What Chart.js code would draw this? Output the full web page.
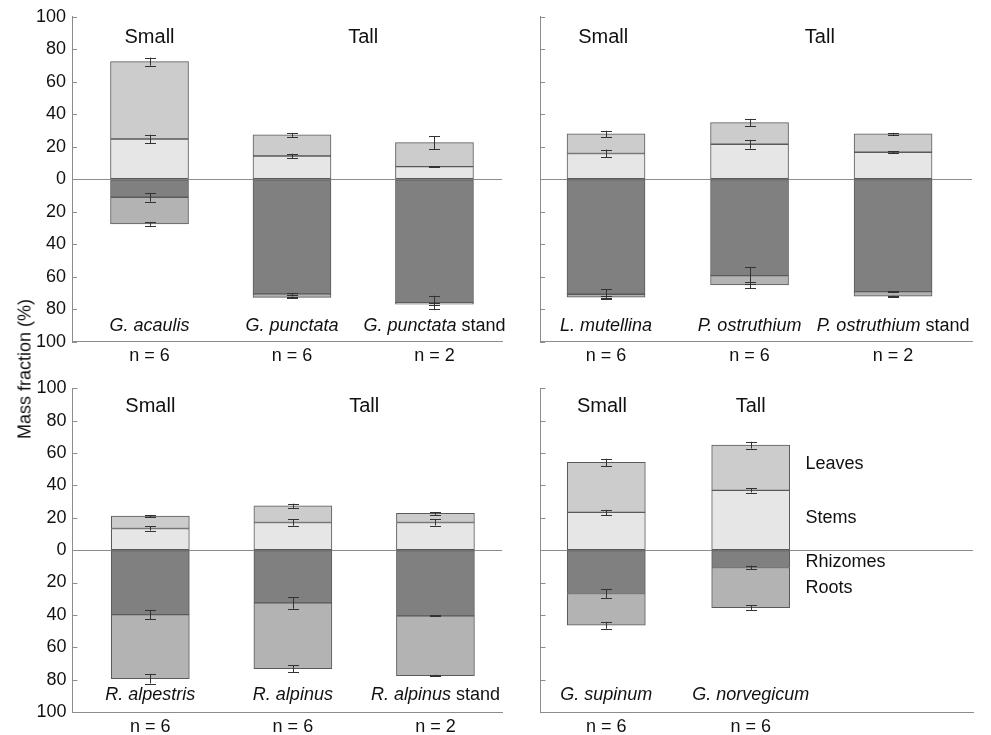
<!DOCTYPE html>
<html><head><meta charset="utf-8">
<script src="https://cdn.jsdelivr.net/npm/chart.js@4.4.0/dist/chart.umd.min.js"></script>
<style>
html,body{margin:0;padding:0;background:#fff;}
#wrap{position:relative;width:991px;height:735px;overflow:hidden;font-family:"Liberation Sans",Arial,sans-serif;}
.pc{position:absolute;}
#ytitle{position:absolute;left:25px;top:369px;transform:translate(-50%,-50%) rotate(-90deg);font-size:18px;white-space:nowrap;color:#111;}
</style></head><body>
<div id="wrap">
<div class="pc" style="left:0;top:0;"><canvas id="c1" width="510" height="370"></canvas></div>
<div class="pc" style="left:510px;top:0;"><canvas id="c2" width="481" height="370"></canvas></div>
<div class="pc" style="left:0;top:370px;"><canvas id="c3" width="510" height="365"></canvas></div>
<div class="pc" style="left:510px;top:370px;"><canvas id="c4" width="481" height="365"></canvas></div>
<div id="ytitle">Mass fraction (%)</div>
</div>
<script>
// ---------- DATA ----------
const yTickLabels = ['100','80','60','40','20','0','20','40','60','80','100'];
const seriesNames = ['Leaves','Stems','Rhizomes','Roots'];
const groupNames = ['Small','Tall'];

// Panel 1 (top left)
const p1Species = ['G. acaulis','G. punctata','G. punctata'];
const p1Suffix  = ['','','stand'];
const p1N       = ['n = 6','n = 6','n = 2'];
const p1Stems    = [24.8, 14.3, 7.8];
const p1Leaves   = [47.6, 13.0, 14.7];
const p1Rhizomes = [11.1, 70.6, 75.9];
const p1Roots    = [16.4, 2.1, 1.0];
const p1LeavesErr   = [2.5, 1.2, 4.1];
const p1StemsErr    = [2.6, 1.4, 0.3];
const p1RhizomesErr = [2.7, 0.6, 4.2];
const p1RootsErr    = [1.2, 0.5, 0.5];

// Panel 2 (top right)
const p2Species = ['L. mutellina','P. ostruthium','P. ostruthium'];
const p2Suffix  = ['','','stand'];
const p2N       = ['n = 6','n = 6','n = 2'];
const p2Stems    = [15.8, 21.5, 16.6];
const p2Leaves   = [12.1, 13.3, 11.3];
const p2Rhizomes = [70.8, 59.3, 69.2];
const p2Roots    = [1.8, 5.7, 2.8];
const p2LeavesErr   = [1.9, 2.3, 0.6];
const p2StemsErr    = [2.4, 2.7, 0.6];
const p2RhizomesErr = [3.2, 5.2, 0.3];
const p2RootsErr    = [0.5, 2.0, 0.3];

// Panel 3 (bottom left)
const p3Species = ['R. alpestris','R. alpinus','R. alpinus'];
const p3Suffix  = ['','','stand'];
const p3N       = ['n = 6','n = 6','n = 2'];
const p3Stems    = [13.4, 17.1, 17.1];
const p3Leaves   = [7.6, 10.3, 5.6];
const p3Rhizomes = [39.8, 32.6, 40.6];
const p3Roots    = [39.6, 40.6, 36.9];
const p3LeavesErr   = [0.6, 1.3, 0.9];
const p3StemsErr    = [1.3, 2.0, 1.9];
const p3RhizomesErr = [3.0, 3.6, 0.3];
const p3RootsErr    = [3.0, 2.2, 0.5];

// Panel 4 (bottom right)
const p4Species = ['G. supinum','G. norvegicum'];
const p4Suffix  = ['',''];
const p4N       = ['n = 6','n = 6'];
const p4Stems    = [23.3, 36.9];
const p4Leaves   = [30.9, 28.0];
const p4Rhizomes = [26.8, 10.7];
const p4Roots    = [19.6, 24.8];
const p4LeavesErr   = [2.3, 2.1];
const p4StemsErr    = [1.6, 1.3];
const p4RhizomesErr = [2.7, 1.1];
const p4RootsErr    = [2.1, 1.4];

// ---------- STYLE ----------
const FONT = '"Liberation Sans", Arial, sans-serif';
const TXT = '#111';
const AXC = '#8c8c8c';
const colors = {Leaves:'#cccccc', Stems:'#e6e6e6', Rhizomes:'#808080', Roots:'#b3b3b3'};

const annot = {
  id: 'annot',
  afterDatasetsDraw(chart) {
    const o = chart.options.plugins.annot;
    const xs = chart.scales.x, ys = chart.scales.y, ctx = chart.ctx;
    ctx.save();
    ctx.strokeStyle = '#333'; ctx.lineWidth = 1;
    const bar = (xv, v, e) => {
      const px = Math.round(xs.getPixelForValue(xv)) + 0.5;
      const y1 = ys.getPixelForValue(v + e), y2 = ys.getPixelForValue(v - e);
      ctx.beginPath();
      ctx.moveTo(px, y1); ctx.lineTo(px, y2);
      ctx.moveTo(px - 5.5, Math.round(y1) + 0.5); ctx.lineTo(px + 5.5, Math.round(y1) + 0.5);
      ctx.moveTo(px - 5.5, Math.round(y2) + 0.5); ctx.lineTo(px + 5.5, Math.round(y2) + 0.5);
      ctx.stroke();
    };
    o.stems.forEach((s, i) => {
      const xv = i + 1;
      bar(xv, s + o.leaves[i], o.leavesErr[i]);
      bar(xv, s, o.stemsErr[i]);
      bar(xv, -o.rhizomes[i], o.rhizomesErr[i]);
      bar(xv, -(o.rhizomes[i] + o.roots[i]), o.rootsErr[i]);
    });
    ctx.restore();
  },
  afterDraw(chart) {
    const o = chart.options.plugins.annot;
    const xs = chart.scales.x, ys = chart.scales.y, ctx = chart.ctx, ca = chart.chartArea;
    ctx.save();
    // inward tick marks
    ctx.strokeStyle = AXC; ctx.lineWidth = 1;
    ys.ticks.forEach(t => {
      const py = Math.round(ys.getPixelForValue(t.value)) + 0.5;
      ctx.beginPath(); ctx.moveTo(ca.left, py); ctx.lineTo(ca.left + 5, py); ctx.stroke();
    });
    ctx.fillStyle = TXT;
    ctx.textBaseline = 'middle';
    // group headers
    ctx.font = '20px ' + FONT; ctx.textAlign = 'center';
    groupNames.forEach((g, i) => {
      ctx.fillText(g, xs.getPixelForValue(o.groupX[i]), ys.getPixelForValue(o.groupY));
    });
    // species labels
    ctx.textAlign = 'left';
    o.species.forEach((sp, i) => {
      const cx = xs.getPixelForValue(i + 1);
      const py = ys.getPixelForValue(o.speciesY);
      ctx.font = 'italic 18px ' + FONT;
      const w1 = ctx.measureText(sp).width;
      let w2 = 0, suf = o.suffix[i];
      ctx.font = '18px ' + FONT;
      if (suf) w2 = ctx.measureText(' ' + suf).width;
      const x0 = cx - (w1 + w2) / 2;
      ctx.font = 'italic 18px ' + FONT;
      ctx.fillText(sp, x0, py);
      if (suf) { ctx.font = '18px ' + FONT; ctx.fillText(' ' + suf, x0 + w1, py); }
    });
    // legend labels
    if (o.legendY) {
      ctx.font = '18px ' + FONT; ctx.textAlign = 'left';
      seriesNames.forEach((n, i) => {
        ctx.fillText(n, xs.getPixelForValue(o.legendX), ys.getPixelForValue(o.legendY[i]));
      });
    }
    ctx.restore();
  }
};

function makeChart(id, d, lay) {
  const xv = d.stems.map((_, i) => i + 1);
  const mk = (name, arr, sign) => ({
    label: name,
    data: arr.map((v, i) => ({x: xv[i], y: sign * v})),
    backgroundColor: colors[name],
    borderColor: '#5a5a5a',
    borderWidth: 1,
    borderSkipped: false,
    barThickness: 78
  });
  return new Chart(document.getElementById(id), {
    type: 'bar',
    data: {datasets: [
      mk('Stems', d.stems, 1), mk('Leaves', d.leaves, 1),
      mk('Rhizomes', d.rhizomes, -1), mk('Roots', d.roots, -1)
    ]},
    options: {
      responsive: false, animation: false,
      layout: {padding: {top: lay.top, right: lay.right, bottom: 0, left: 0}},
      plugins: {
        legend: {display: false}, tooltip: {enabled: false},
        annot: Object.assign({}, d, lay)
      },
      scales: {
        x: {
          type: 'linear', stacked: true, min: lay.xmin, max: lay.xmax, offset: false,
          grid: {display: false, drawTicks: false, offset: false},
          border: {display: true, color: AXC, width: 1},
          afterBuildTicks: s => { s.ticks = xv.map(v => ({value: v})); },
          ticks: {callback: (v, i) => d.n[i], font: {size: 18, family: FONT}, color: TXT,
                  padding: lay.xpad, maxRotation: 0, autoSkip: false},
          afterFit: s => { s.height = lay.xh; }
        },
        y: {
          stacked: true, min: -100, max: 100,
          ticks: {stepSize: 20, display: lay.yLabels, callback: (v, i) => yTickLabels[i],
                  font: {size: 18, family: FONT}, color: TXT, padding: 6},
          grid: {drawTicks: false, lineWidth: 1,
                 color: c => (c.tick && c.tick.value === 0) ? AXC : 'rgba(0,0,0,0)'},
          border: {display: true, color: AXC, width: 1},
          afterFit: s => { s.width = lay.yw; }
        }
      }
    },
    plugins: [annot]
  });
}

makeChart('c1',
  {stems: p1Stems, leaves: p1Leaves, rhizomes: p1Rhizomes, roots: p1Roots,
   stemsErr: p1StemsErr, leavesErr: p1LeavesErr, rhizomesErr: p1RhizomesErr, rootsErr: p1RootsErr,
   species: p1Species, suffix: p1Suffix, n: p1N},
  {top: 16.7, right: 8, yw: 72, xh: 28.3, xpad: 4, xmin: 0.456, xmax: 3.474, yLabels: true,
   groupX: [1, 2.5], groupY: 87.5, speciesY: -90.6});

makeChart('c2',
  {stems: p2Stems, leaves: p2Leaves, rhizomes: p2Rhizomes, roots: p2Roots,
   stemsErr: p2StemsErr, leavesErr: p2LeavesErr, rhizomesErr: p2RhizomesErr, rootsErr: p2RootsErr,
   species: p2Species, suffix: p2Suffix, n: p2N},
  {top: 16.7, right: 19, yw: 30, xh: 28.3, xpad: 4, xmin: 0.54, xmax: 3.55, yLabels: false,
   groupX: [0.98, 2.49], groupY: 87.5, speciesY: -90.6});

makeChart('c3',
  {stems: p3Stems, leaves: p3Leaves, rhizomes: p3Rhizomes, roots: p3Roots,
   stemsErr: p3StemsErr, leavesErr: p3LeavesErr, rhizomesErr: p3RhizomesErr, rootsErr: p3RootsErr,
   species: p3Species, suffix: p3Suffix, n: p3N},
  {top: 18.3, right: 8, yw: 72.5, xh: 23, xpad: 4, xmin: 0.454, xmax: 3.467, yLabels: true,
   groupX: [1, 2.5], groupY: 88.6, speciesY: -89.7});

makeChart('c4',
  {stems: p4Stems, leaves: p4Leaves, rhizomes: p4Rhizomes, roots: p4Roots,
   stemsErr: p4StemsErr, leavesErr: p4LeavesErr, rhizomesErr: p4RhizomesErr, rootsErr: p4RootsErr,
   species: p4Species, suffix: p4Suffix, n: p4N},
  {top: 18.3, right: 18, yw: 30.5, xh: 23, xpad: 4, xmin: 0.544, xmax: 3.54, yLabels: false,
   groupX: [0.97, 2.0], groupY: 88.6, speciesY: -89.7,
   legendX: 2.38, legendY: [53, 20, -7.2, -23.6]});
</script>
</body></html>
